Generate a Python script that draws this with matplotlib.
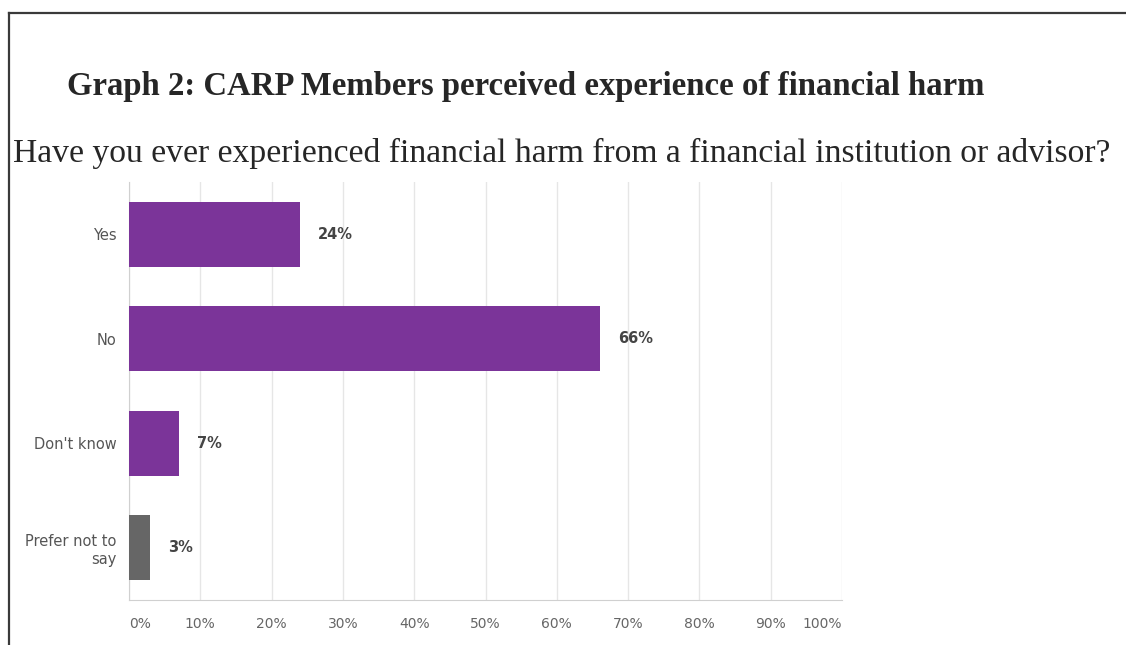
import matplotlib
matplotlib.use("Agg")
import matplotlib.pyplot as plt
from matplotlib.lines import Line2D

# Survey responses (percent of respondents)
categories = ["Yes", "No", "Don't know", "Prefer not to\nsay"]
percents = [24, 66, 7, 3]
bar_colors = ["#7b3499", "#7b3499", "#7b3499", "#666666"]
tick_values = [0, 10, 20, 30, 40, 50, 60, 70, 80, 90, 100]
tick_labels = [f"{v}%" for v in tick_values]

title = "Graph 2: CARP Members perceived experience of financial harm"
question = "Have you ever experienced financial harm from a financial institution or advisor?"

W, H = 1126, 645
fig = plt.figure(figsize=(W / 100, H / 100), dpi=100)

# page frame: top rule and left rule
fig.add_artist(Line2D([9 / W, 1], [1 - 13 / H, 1 - 13 / H], color="#3a3a3a", lw=1.6))
fig.add_artist(Line2D([9 / W, 9 / W], [0, 1 - 13 / H], color="#3a3a3a", lw=1.6))

fig.text(67 / W, 1 - 86 / H, title, fontsize=23.6, fontweight="bold",
         family="Liberation Serif", color="#262626", va="center", ha="left")
fig.text(13 / W, 1 - 153 / H, question, fontsize=24.2,
         family="Liberation Serif", color="#262626", va="center", ha="left")

ax = fig.add_axes([129 / W, 45 / H, (842 - 129) / W, (600 - 182) / H])

ypos = list(range(len(categories)))
ax.barh(ypos, percents, height=0.62, color=bar_colors, zorder=3)
for y, p in zip(ypos, percents):
    ax.annotate(f"{p}%", (p, y), xytext=(13, 0), textcoords="offset points",
                va="center", ha="left", fontsize=10.5, fontweight="bold",
                family="DejaVu Sans", color="#444444")

ax.set_xlim(0, 100)
ax.set_ylim(3.5, -0.5)
ax.set_yticks(ypos)
ax.set_yticklabels(categories, family="DejaVu Sans", fontsize=10.5, color="#555555")
ax.set_xticks(tick_values)
ax.set_xticklabels(tick_labels, family="DejaVu Sans", fontsize=10, color="#666666")
ax.get_xticklabels()[0].set_ha("left")
ax.get_xticklabels()[-1].set_ha("right")
ax.tick_params(axis="both", length=0)
ax.tick_params(axis="x", pad=12)
ax.tick_params(axis="y", pad=9)

ax.grid(axis="x", color="#e6e6e6", lw=1, zorder=0)
for side in ["top", "right"]:
    ax.spines[side].set_visible(False)
ax.spines["left"].set_color("#d0d0d0")
ax.spines["bottom"].set_color("#d0d0d0")

fig.savefig("out.png", dpi=100)
